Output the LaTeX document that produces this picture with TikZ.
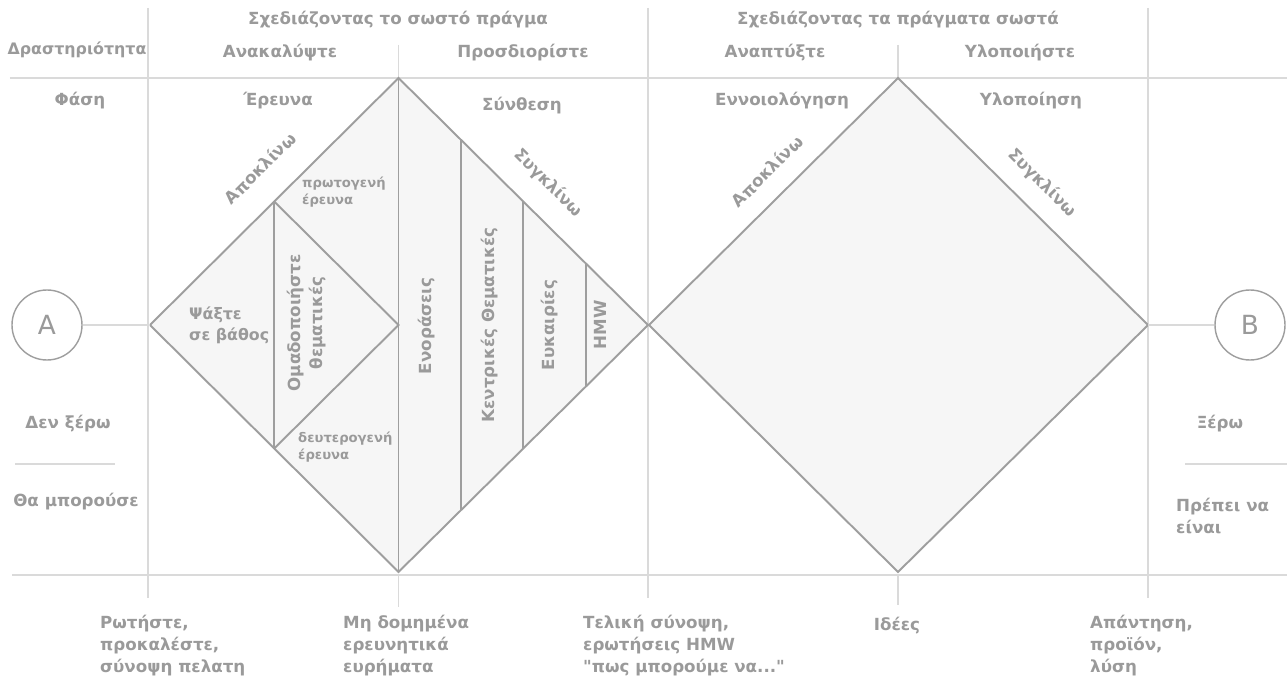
\documentclass[tikz,border=0pt]{standalone}
\usepackage{fontspec}
\setmainfont{DejaVu Sans}
\usetikzlibrary{calc}
\definecolor{txtgray}{HTML}{9A9A9A}
\definecolor{edgegray}{HTML}{9E9E9E}
\definecolor{gridgray}{HTML}{DADADA}
\definecolor{fillgray}{HTML}{F6F6F6}

\begin{document}
\begin{tikzpicture}[
  lbl/.style={text=txtgray, font=\bfseries\fontsize{9.5}{12.5}\selectfont},
  small/.style={text=txtgray, font=\bfseries\fontsize{7.5}{10}\selectfont},
  grid/.style={gridgray, line width=0.6pt},
  edge/.style={edgegray, line width=1.1pt},
  endpt/.style={circle, draw=edgegray, line width=0.8pt, fill=white,
    minimum size=1.4cm, inner sep=0pt, text=txtgray, font=\fontsize{15}{15}\selectfont}
]
  \useasboundingbox (0,0) rectangle (25.74,13.56);

  %% grid
  % columns
  \draw[grid] (2.96,13.4) -- (2.96,1.6);
  \draw[grid] (12.96,13.4) -- (12.96,1.6);
  \draw[grid] (22.96,13.4) -- (22.96,1.6);
  \draw[grid] (7.97,12.66) -- (7.97,12.0);
  \draw[grid] (17.96,12.66) -- (17.96,12.0);
  \draw[grid] (7.97,2.06) -- (7.97,1.42);
  \draw[grid] (17.96,2.06) -- (17.96,1.46);
  % rows
  \draw[grid] (0.2,12.0) -- (25.74,12.0);
  \draw[grid] (0.24,2.06) -- (25.74,2.06);
  \draw[grid] (0.3,4.28) -- (2.3,4.28);
  \draw[grid] (23.7,4.28) -- (25.74,4.28);

  %% diamonds
  \coordinate (lW) at (3.0,7.06);
  \coordinate (lN) at (7.97,12.0);
  \coordinate (lE) at (12.96,7.06);
  \coordinate (lS) at (7.97,2.12);
  \coordinate (lC) at (7.97,7.06);
  \coordinate (rW) at (12.98,7.06);
  \coordinate (rN) at (17.96,12.0);
  \coordinate (rE) at (22.96,7.06);
  \coordinate (rS) at (17.96,2.12);

  % discover / define
  \filldraw[edge, fill=fillgray] (lW) -- (lN) -- (lE) -- (lS) -- cycle;
  \draw[edge] (lN) -- (lS);
  \draw[edge] ($(lW)!0.5!(lN)$) -- ($(lW)!0.5!(lS)$);
  \draw[edge] ($(lW)!0.5!(lN)$) -- (lC) -- ($(lW)!0.5!(lS)$);
  \foreach \f in {0.25,0.5,0.75}
    \draw[edge] ($(lN)!\f!(lE)$) -- ($(lS)!\f!(lE)$);

  % develop / deliver
  \filldraw[edge, fill=fillgray] (rW) -- (rN) -- (rE) -- (rS) -- cycle;

  %% start and end
  \node[endpt] (A) at (0.94,7.06) {A};
  \node[endpt] (B) at (25.0,7.06) {B};
  \draw[grid] (A) -- (lW);
  \draw[grid] (rE) -- (B);

  %% header
  \node[lbl] (plan1) at (7.96,13.16) {Σχεδιάζοντας το σωστό πράγμα};
  \node[lbl] (plan2) at (17.96,13.16) {Σχεδιάζοντας τα πράγματα σωστά};
  \node[lbl, font=\bfseries\fontsize{9}{11}\selectfont] (act) at (1.54,12.56) {Δραστηριότητα};
  \node[lbl] (act1) at (5.6,12.5) {Ανακαλύψτε};
  \node[lbl] (act2) at (10.46,12.5) {Προσδιορίστε};
  \node[lbl] (act3) at (15.5,12.5) {Αναπτύξτε};
  \node[lbl] (act4) at (20.4,12.5) {Υλοποιήστε};
  \node[lbl] (phase) at (1.6,11.54) {Φάση};
  \node[lbl] (phase1) at (5.56,11.54) {Έρευνα};
  \node[lbl] (phase2) at (10.44,11.44) {Σύνθεση};
  \node[lbl] (phase3) at (15.64,11.54) {Εννοιολόγηση};
  \node[lbl] (phase4) at (20.62,11.54) {Υλοποίηση};

  %% edge labels
  \node[lbl, rotate=45] (div1) at (5.2,10.2) {Αποκλίνω};
  \node[lbl, rotate=-45] (conv1) at (10.96,9.9) {Συγκλίνω};
  \node[lbl, rotate=45] (div2) at (15.34,10.14) {Αποκλίνω};
  \node[lbl, rotate=-45] (conv2) at (20.84,9.9) {Συγκλίνω};

  %% inside left diamond
  \node[small, anchor=west, align=left] (prim) at (5.92,9.72) {πρωτογενή\\έρευνα};
  \node[small, anchor=west, align=left] (sec) at (5.84,4.62) {δευτερογενή\\έρευνα};
  \node[lbl, anchor=west, align=left, font=\bfseries\fontsize{9}{12}\selectfont] (dig) at (3.66,7.06) {Ψάξτε\\σε βάθος};
  \node[lbl, rotate=90, align=center] (clust) at (6.14,7.1) {Ομαδοποιήστε\\θεματικές};
  \node[lbl, rotate=90] (ins) at (8.54,7.04) {Ενοράσεις};
  \node[lbl, rotate=90] (themes) at (9.8,7.06) {Κεντρικές Θεματικές};
  \node[lbl, rotate=90] (opp) at (11.0,7.06) {Ευκαιρίες};
  \node[lbl, rotate=90] (hmw) at (12.0,7.06) {HMW};

  %% sides
  \node[lbl] (dk) at (1.36,5.08) {Δεν ξέρω};
  \node[lbl] (could) at (1.52,3.52) {Θα μπορούσε};
  \node[lbl] (know) at (24.4,5.08) {Ξέρω};
  \node[lbl, anchor=north west, align=left] (should) at (23.4,3.72) {Πρέπει να\\είναι};

  %% outputs
  \node[lbl, anchor=north west, align=left] (out1) at (1.88,1.38) {Ρωτήστε,\\προκαλέστε,\\σύνοψη πελατη};
  \node[lbl, anchor=north west, align=left] (out2) at (6.74,1.38) {Μη δομημένα\\ερευνητικά\\ευρήματα};
  \node[lbl, anchor=north west, align=left] (out3) at (11.54,1.38) {Τελική σύνοψη,\\ερωτήσεις HMW\\\textquotedbl πως μπορούμε να...\textquotedbl};
  \node[lbl] (out4) at (17.94,1.04) {Ιδέες};
  \node[lbl, anchor=north west, align=left] (out5) at (21.68,1.38) {Απάντηση,\\προϊόν,\\λύση};
\end{tikzpicture}
\end{document}
